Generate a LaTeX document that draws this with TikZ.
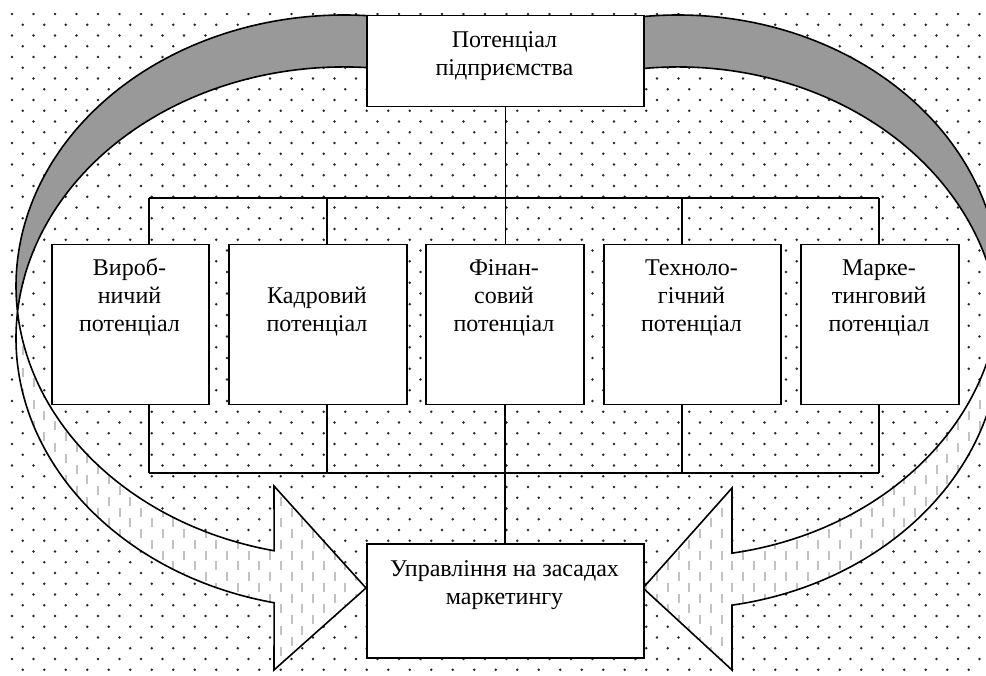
\documentclass[tikz,border=0pt]{standalone}
\usepackage{fontspec}
\setmainfont{Liberation Serif}
\begin{document}
\begin{tikzpicture}[x=1pt,y=1pt,
  box/.style={draw=black, line width=1.5pt, fill=white, rectangle, inner sep=0pt, anchor=north west},
  txt/.style={font=\fontsize{24}{28}\selectfont, align=center, inner sep=0pt, anchor=base},
  conn/.style={draw=black, line width=1.5pt},
  arrline/.style={draw=black, line width=1.6pt, line join=miter},
  dotc/.style={fill=black!85},
  back/.style={fill=black!40},
  hatch/.style={draw=black!24, line width=2pt}]
\useasboundingbox (0,0) rectangle (986,-676);
\clip (0,0) rectangle (986,-676);
\fill[white] (0,0) rectangle (986,-676);
% dotted background
\begin{scope}
\clip (10,-14) rectangle (990,-680);
\foreach \r [evaluate=\r as \yy using {-(14+\r*10.75)}, evaluate=\r as \xo using {12+mod(\r,2)*10.75}] in {0,...,61}{
  \fill[dotc] \foreach \c in {0,...,45}{ (\xo+\c*21.5,\yy) circle[radius=1.35pt] };
}
\end{scope}
% ellipse centres of the curved arrows
\coordinate (LU) at (344,-286);
\coordinate (LL) at (344,-338);
\coordinate (RU) at (678,-286);
\coordinate (RL) at (678,-338);
\def\leftfront{([shift={(174.5:328pt and 271pt)}]LL) arc[start angle=174.5,end angle=257.7,x radius=328pt,y radius=271pt] -- (274,-670) -- (366,-588) -- (274,-486) -- ([shift={(257.7:328pt and 271pt)}]LU) arc[start angle=257.7,end angle=185.5,x radius=328pt,y radius=271pt] -- cycle}
\def\rightfront{([shift={(5.5:322pt and 271pt)}]RL) arc[start angle=5.5,end angle=-80.35,x radius=322pt,y radius=271pt] -- (732,-670) -- (643,-588) -- (732,-488) -- ([shift={(-80.35:322pt and 271pt)}]RU) arc[start angle=-80.35,end angle=-5.5,x radius=322pt,y radius=271pt] -- cycle}
% back (grey) parts
\path[back, arrline] ([shift={(80:328pt and 271pt)}]LU) arc[start angle=80,end angle=185.5,x radius=328pt,y radius=271pt] arc[start angle=174.5,end angle=80,x radius=328pt,y radius=271pt] -- cycle;
\path[back, arrline] ([shift={(100:322pt and 271pt)}]RU) arc[start angle=100,end angle=-5.5,x radius=322pt,y radius=271pt] arc[start angle=5.5,end angle=100,x radius=322pt,y radius=271pt] -- cycle;
% front parts: white with light vertical dashes
\fill[white] \leftfront;
\fill[white] \rightfront;
\begin{scope}
\clip \leftfront;
\foreach \r [evaluate=\r as \ya using {-(13+\r*10.75)}, evaluate=\r as \yb using {-(22+\r*10.75)}, evaluate=\r as \xo using {12+mod(\r,2)*10.75}] in {25,...,62}{
  \draw[hatch] \foreach \c in {0,...,17}{ (\xo+\c*21.5,\ya) -- (\xo+\c*21.5,\yb) };
}
\end{scope}
\begin{scope}
\clip \rightfront;
\foreach \r [evaluate=\r as \ya using {-(13+\r*10.75)}, evaluate=\r as \yb using {-(22+\r*10.75)}, evaluate=\r as \xo using {12+mod(\r,2)*10.75}] in {25,...,62}{
  \draw[hatch] \foreach \c in {28,...,46}{ (\xo+\c*21.5,\ya) -- (\xo+\c*21.5,\yb) };
}
\end{scope}
\draw[arrline] \leftfront;
\draw[arrline] \rightfront;
% boxes
\node[box, minimum width=277pt, minimum height=91pt] (top) at (366,-15) {};
\node[box, minimum width=157pt, minimum height=160pt] (b1) at (51,-244) {};
\node[box, minimum width=178pt, minimum height=160pt] (b2) at (228,-244) {};
\node[box, minimum width=158pt, minimum height=160pt] (b3) at (425,-244) {};
\node[box, minimum width=177pt, minimum height=160pt] (b4) at (603,-244) {};
\node[box, minimum width=158pt, minimum height=160pt] (b5) at (800,-244) {};
\node[box, minimum width=277pt, minimum height=114pt] (bot) at (366,-543) {};
% connectors
\coordinate (u1) at (149,-198);
\coordinate (u2) at (327,-198);
\coordinate (u4) at (682,-198);
\coordinate (u5) at (879,-198);
\coordinate (d1) at (149,-473);
\coordinate (d2) at (327,-473);
\coordinate (d4) at (682,-473);
\coordinate (d5) at (879,-473);
\draw[conn] (u1) -- (u5);
\draw[conn] (d1) -- (d5);
\draw[conn] (u1) -- (u1 |- b1.north);
\draw[conn] (u2) -- (u2 |- b2.north);
\draw[conn] (u4) -- (u4 |- b4.north);
\draw[conn] (u5) -- (u5 |- b5.north);
\draw[conn] (d1) -- (d1 |- b1.south);
\draw[conn] (d2) -- (d2 |- b2.south);
\draw[conn] (d4) -- (d4 |- b4.south);
\draw[conn] (d5) -- (d5 |- b5.south);
\draw[conn] (top.south) -- (top.south |- b3.north);
\draw[conn] (b3.south) -- (b3.south |- bot.north);
% texts (anchored at the baseline of the last line)
\node[txt] (ttop) at (504.5,-76) {Потенціал\\підприємства};
\node[txt] (t1) at (129.5,-332) {Вироб-\\ничий\\потенціал};
\node[txt] (t2) at (317,-332) {Кадровий\\потенціал};
\node[txt] (t3) at (504,-332) {Фінан-\\совий\\потенціал};
\node[txt] (t4) at (691.5,-332) {Техноло-\\гічний\\потенціал};
\node[txt] (t5) at (879,-332) {Марке-\\тинговий\\потенціал};
\node[txt] (tbot) at (504.5,-604) {Управління на засадах\\маркетингу};
\end{tikzpicture}
\end{document}
